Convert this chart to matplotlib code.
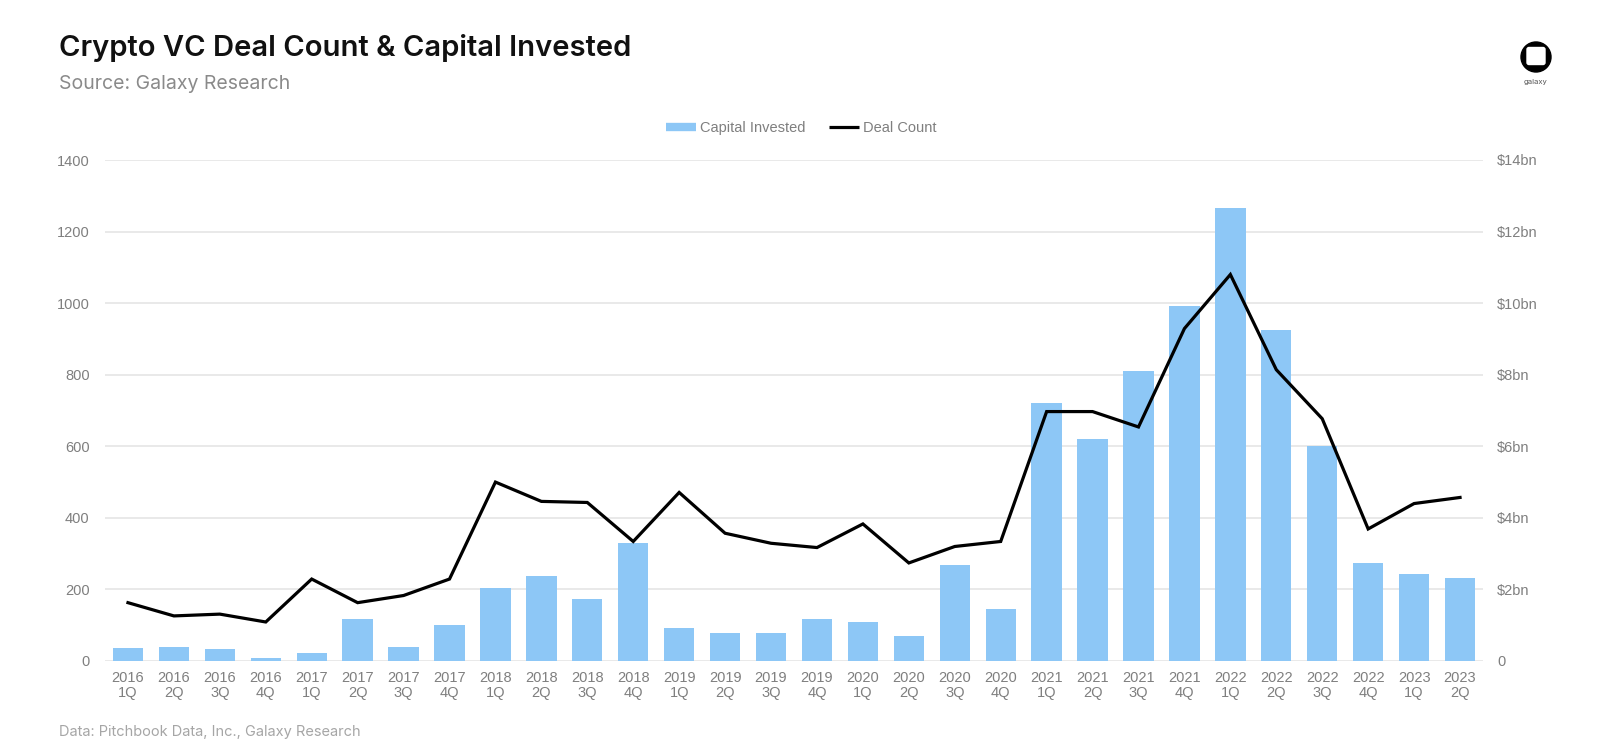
import matplotlib
matplotlib.use("Agg")
import matplotlib.pyplot as plt
from matplotlib.patches import Circle, FancyBboxPatch
from matplotlib.lines import Line2D
import numpy as np

# data
years = ["2016"] * 4 + ["2017"] * 4 + ["2018"] * 4 + ["2019"] * 4 + ["2020"] * 4 + ["2021"] * 4 + ["2022"] * 4 + ["2023"] * 2
quarters = ["1Q", "2Q", "3Q", "4Q"] * 7 + ["1Q", "2Q"]
capital_bn = [0.37, 0.40, 0.34, 0.09, 0.23, 1.17, 0.40, 1.00,
              2.03, 2.37, 1.74, 3.29, 0.91, 0.77, 0.77, 1.17,
              1.09, 0.69, 2.69, 1.46, 7.20, 6.20, 8.09, 9.91,
              12.66, 9.26, 6.00, 2.74, 2.43, 2.31]
deal_count = [163, 126, 131, 109, 229, 163, 183, 229,
              500, 446, 443, 334, 471, 357, 329, 317,
              383, 274, 320, 334, 697, 697, 654, 929,
              1080, 814, 677, 369, 440, 457]
left_ticks = [0, 200, 400, 600, 800, 1000, 1200, 1400]
right_ticks = [0, 2, 4, 6, 8, 10, 12, 14]
right_labels = ["0", "$2bn", "$4bn", "$6bn", "$8bn", "$10bn", "$12bn", "$14bn"]

labels = [y + "\n" + q for y, q in zip(years, quarters)]
x = np.arange(len(labels))

bar_color = "#8DC7F6"
grey = "#7f7f7f"
tick_font = "Liberation Sans"

fig = plt.figure(figsize=(16.04, 7.51), dpi=100)
ax2 = fig.add_axes([105 / 1604, 1 - 661 / 751, (1483 - 105) / 1604, (661 - 160) / 751])
ax = ax2.twinx()

# bars on the right axis (capital), line on the left axis (deals)
ax2.bar(x, capital_bn, width=0.66, color=bar_color, zorder=2)
ax2.set_ylim(0, 14)
ax2.set_yticks(right_ticks)
ax2.set_yticklabels(right_labels)
ax2.yaxis.tick_right()
ax2.grid(axis="y", color="#e3e3e3", lw=1.1, zorder=0)
ax2.set_axisbelow(True)

ax.plot(x, deal_count, color="black", lw=2.3, solid_joinstyle="miter")
ax.set_ylim(0, 1400)
ax.set_yticks(left_ticks)
ax.yaxis.tick_left()
ax.set_zorder(ax2.get_zorder() + 1)
ax.patch.set_visible(False)

ax2.set_xlim(-0.5, len(labels) - 0.5)
ax2.set_xticks(x)
ax2.set_xticklabels(labels, linespacing=1.15)

for a in (ax, ax2):
    for s in a.spines.values():
        s.set_visible(False)
    a.tick_params(length=0, colors=grey, labelsize=10.5)
    for t in a.get_xticklabels() + a.get_yticklabels():
        t.set_fontfamily(tick_font)
ax.tick_params(axis="y", pad=11)
ax2.tick_params(axis="y", pad=10)
ax2.tick_params(axis="x", pad=7)

# legend
handles = [Line2D([0], [0], color=bar_color, lw=6, solid_capstyle="butt"),
           Line2D([0], [0], color="black", lw=2.3, solid_capstyle="butt")]
fig.legend(handles, ["Capital Invested", "Deal Count"], loc="center",
           bbox_to_anchor=(801 / 1604, 1 - 128 / 751), ncol=2, frameon=False,
           handlelength=2.1, handletextpad=0.25, columnspacing=1.6,
           prop={"family": tick_font, "size": 10.5}, labelcolor=grey)

# titles
fig.text(59 / 1604, 1 - 48 / 751, "Crypto VC Deal Count & Capital Invested",
         fontsize=21, fontweight="semibold", family="Inter", color="#111111",
         va="center", ha="left")
fig.text(59 / 1604, 1 - 84 / 751, "Source: Galaxy Research",
         fontsize=14, family="Inter", color="#8a8a8a", va="center", ha="left")
fig.text(59 / 1604, 1 - 732 / 751, "Data: Pitchbook Data, Inc., Galaxy Research",
         fontsize=10.5, family="Inter", color="#a6a6a6", va="center", ha="left")

# logo
cx, cy = 1536 / 1604, 1 - 57 / 751
logo = fig.add_axes([cx - 20 / 1604, cy - 20 / 751, 40 / 1604, 40 / 751])
logo.set_xlim(-20, 20)
logo.set_ylim(-20, 20)
logo.set_aspect("equal")
logo.axis("off")
logo.add_patch(Circle((0, 0), 15, color="black"))
logo.add_patch(FancyBboxPatch((-9, -7.5), 18, 17, boxstyle="round,pad=0,rounding_size=2",
                              color="white"))
fig.text(cx, 1 - 82 / 751, "galaxy", fontsize=5.5, color="#555555",
         ha="center", va="center", family="Inter")

fig.savefig("out.png", dpi=100, facecolor="white")
